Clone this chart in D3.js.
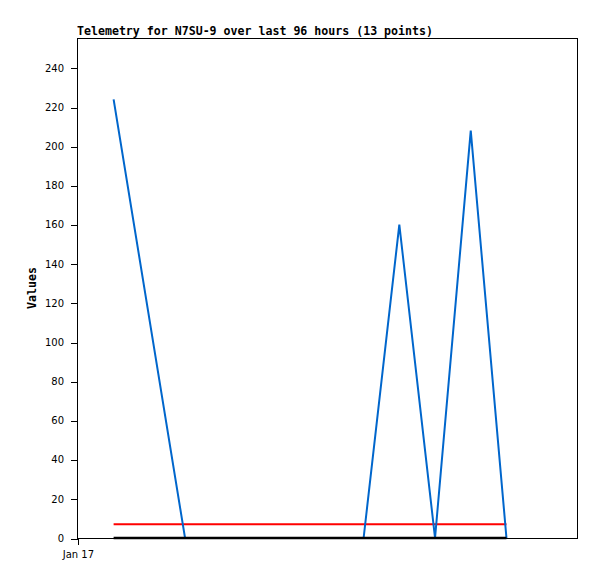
<!DOCTYPE html>
<html>
<head>
<meta charset="utf-8">
<script src="https://cdn.jsdelivr.net/npm/d3@7"></script>
<style>
  body { margin: 0; background: #fff; }
  text { fill: #000; }
</style>
</head>
<body>
<div id="chart-container"></div>
<script>
// telemetry samples: hours after Jan 17 00:00
const hours = [8, 24, 32, 40, 48, 56, 64, 72, 80, 88, 96];
const values = [224, 0, 0, 0, 0, 0, 0, 160, 0, 208, 0];
const threshold = [7, 7, 7, 7, 7, 7, 7, 7, 7, 7, 7];
const baseline = [0, 0, 0, 0, 0, 0, 0, 0, 0, 0, 0];
const yTicks = [0, 20, 40, 60, 80, 100, 120, 140, 160, 180, 200, 220, 240];
const xTickLabels = ['Jan 17'];

const margin = { top: 38, right: 20, bottom: 41, left: 77 };
const width = 597 - margin.left - margin.right;
const height = 579 - margin.top - margin.bottom;

const start = new Date(2024, 0, 17, 0, 0);
const hour = 3600000;
const times = hours.map(h => new Date(start.getTime() + h * hour));

const svg = d3.select('#chart-container')
  .append('svg')
  .attr('width', 597)
  .attr('height', 579);

const g = svg.append('g')
  .attr('transform', `translate(${margin.left}, ${margin.top})`);

const x = d3.scaleTime()
  .domain([new Date(start.getTime() - 0.2 * hour), new Date(start.getTime() + 111.8 * hour)])
  .range([0, width]);

const y = d3.scaleLinear()
  .domain([0, 255.3])
  .range([height, 0]);

// frame
g.append('rect')
  .attr('x', 0.5).attr('y', 0.5)
  .attr('width', width).attr('height', height)
  .attr('fill', 'none')
  .attr('stroke', '#000')
  .attr('shape-rendering', 'crispEdges');

// y axis
const yAxis = g.append('g')
  .call(d3.axisLeft(y).tickValues(yTicks).tickSize(7).tickPadding(6))
  .attr('font-family', 'DejaVu Sans, sans-serif')
  .attr('font-size', 10);
yAxis.select('.domain').remove();
yAxis.selectAll('line').attr('shape-rendering', 'crispEdges').attr('transform', 'translate(0.5,0.5)');

// x axis
const xAxis = g.append('g')
  .attr('transform', `translate(0, ${height})`)
  .call(d3.axisBottom(x).tickValues([start]).tickFormat((d, i) => xTickLabels[i]).tickSize(7).tickPadding(6))
  .attr('font-family', 'DejaVu Sans, sans-serif')
  .attr('font-size', 10);
xAxis.select('.domain').remove();
xAxis.selectAll('line').attr('shape-rendering', 'crispEdges');

const line = d3.line()
  .x(d => x(d[0]))
  .y(d => y(d[1]));

// drawing order: threshold, values, then zero baseline on top
const series = [
  { data: threshold, color: '#ff0000', w: 2 },
  { data: values, color: '#0066cc', w: 2 },
  { data: baseline, color: '#000000', w: 2.5 }
];

series.forEach(s => {
  g.append('path')
    .datum(times.map((t, i) => [t, s.data[i]]))
    .attr('d', line)
    .attr('fill', 'none')
    .attr('stroke', s.color)
    .attr('stroke-width', s.w);
});

// title
svg.append('text')
  .attr('x', margin.left)
  .attr('y', 35)
  .attr('font-family', 'DejaVu Sans Mono, monospace')
  .attr('font-weight', 'bold')
  .attr('font-size', 11.6)
  .text('Telemetry for N7SU-9 over last 96 hours (13 points)');

// y label
svg.append('text')
  .attr('transform', `translate(36, ${margin.top + height / 2}) rotate(-90)`)
  .attr('text-anchor', 'middle')
  .attr('font-family', 'DejaVu Sans Mono, monospace')
  .attr('font-weight', 'bold')
  .attr('font-size', 11.6)
  .text('Values');
</script>
</body>
</html>
